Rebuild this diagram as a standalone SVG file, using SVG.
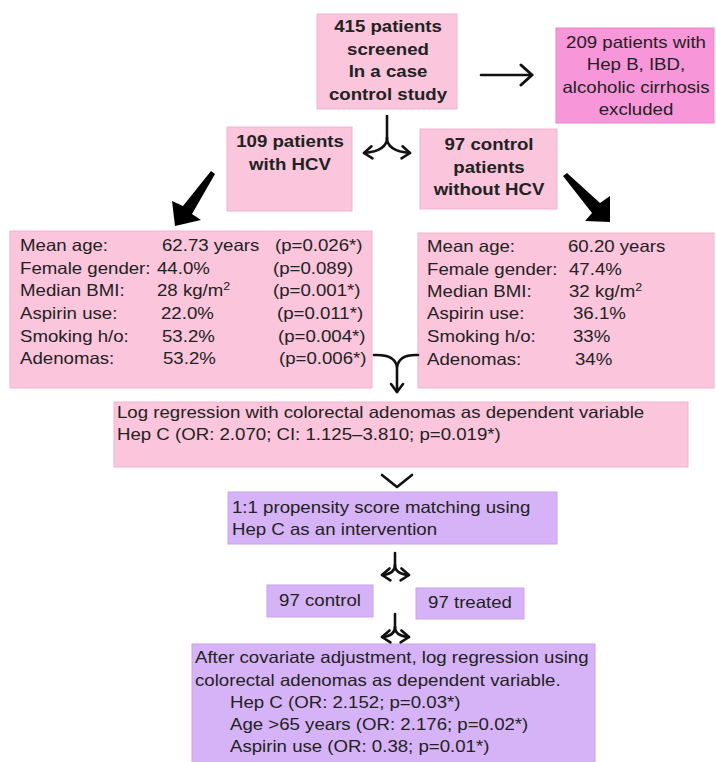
<svg xmlns="http://www.w3.org/2000/svg" width="716" height="762" viewBox="0 0 716 762">
<style>
text{font-family:"Liberation Sans",Arial,sans-serif;font-size:16.5px;fill:#222}
.b{font-weight:bold}
.c{text-anchor:middle}
.pk{fill:#fbc5dc;stroke:#f2b3cf;stroke-width:1}
.mg{fill:#f896da;stroke:#ec86cc;stroke-width:1}
.pu{fill:#d6b3f6;stroke:#c9a2ef;stroke-width:1}
.ln{fill:none;stroke:#111;stroke-width:2.6;stroke-linecap:round}
</style>
<defs>
<marker id="ah" markerUnits="userSpaceOnUse" markerWidth="16" markerHeight="16" viewBox="0 0 16 16" refX="12" refY="8" orient="auto">
<path d="M4,2 L12,8 L4,14" fill="none" stroke="#111" stroke-width="2.6" stroke-linecap="round" stroke-linejoin="round"/>
</marker>
<marker id="ah2" markerUnits="userSpaceOnUse" markerWidth="24" markerHeight="24" viewBox="0 0 24 24" refX="19" refY="12" orient="auto">
<path d="M8,2 L19,12 L8,22" fill="none" stroke="#111" stroke-width="3" stroke-linecap="round" stroke-linejoin="round"/>
</marker>
</defs>
<rect width="716" height="762" fill="#fff"/>

<g id="n-screened">
<rect class="pk" x="317" y="14" width="140" height="95"/>
<text class="b c" transform="translate(388,32) scale(1.13,1)">415 patients</text>
<text class="b c" transform="translate(388,55) scale(1.13,1)">screened</text>
<text class="b c" transform="translate(388,77) scale(1.13,1)">In a case</text>
<text class="b c" transform="translate(388,100) scale(1.13,1)">control study</text>
</g>

<g id="n-excluded">
<rect class="mg" x="556" y="28" width="158" height="95"/>
<text class="c" transform="translate(636,48) scale(1.13,1)">209 patients with</text>
<text class="c" transform="translate(636,70) scale(1.13,1)">Hep B, IBD,</text>
<text class="c" transform="translate(636,93) scale(1.13,1)">alcoholic cirrhosis</text>
<text class="c" transform="translate(636,115) scale(1.13,1)">excluded</text>
</g>

<g id="n-hcv">
<rect class="pk" x="227" y="127" width="125" height="84"/>
<text class="b c" transform="translate(290,147) scale(1.13,1)">109 patients</text>
<text class="b c" transform="translate(290,170) scale(1.13,1)">with HCV</text>
</g>

<g id="n-control">
<rect class="pk" x="420" y="129" width="137" height="80"/>
<text class="b c" transform="translate(489,150) scale(1.13,1)">97 control</text>
<text class="b c" transform="translate(489,173) scale(1.13,1)">patients</text>
<text class="b c" transform="translate(489,195) scale(1.13,1)">without HCV</text>
</g>

<g id="n-hcv-stats">
<rect class="pk" x="10" y="231" width="362" height="157"/>
<text transform="translate(20,251) scale(1.13,1)">Mean age:</text><text transform="translate(162,251) scale(1.13,1)">62.73 years</text><text transform="translate(275,251) scale(1.13,1)">(p=0.026*)</text>
<text transform="translate(20,274) scale(1.13,1)">Female gender:</text><text transform="translate(157,274) scale(1.13,1)">44.0%</text><text transform="translate(273,274) scale(1.13,1)">(p=0.089)</text>
<text transform="translate(20,296) scale(1.13,1)">Median BMI:</text><text transform="translate(157,296) scale(1.13,1)">28 kg/m<tspan dy="-6" font-size="11">2</tspan></text><text transform="translate(273,296) scale(1.13,1)">(p=0.001*)</text>
<text transform="translate(20,319) scale(1.13,1)">Aspirin use:</text><text transform="translate(161,319) scale(1.13,1)">22.0%</text><text transform="translate(277,319) scale(1.13,1)">(p=0.011*)</text>
<text transform="translate(20,342) scale(1.13,1)">Smoking h/o:</text><text transform="translate(162,342) scale(1.13,1)">53.2%</text><text transform="translate(278,342) scale(1.13,1)">(p=0.004*)</text>
<text transform="translate(20,364) scale(1.13,1)">Adenomas:</text><text transform="translate(163,364) scale(1.13,1)">53.2%</text><text transform="translate(279,364) scale(1.13,1)">(p=0.006*)</text>
</g>

<g id="n-control-stats">
<rect class="pk" x="418" y="233" width="296" height="155"/>
<text transform="translate(427,252) scale(1.13,1)">Mean age:</text><text transform="translate(568,252) scale(1.13,1)">60.20 years</text>
<text transform="translate(427,275) scale(1.13,1)">Female gender:</text><text transform="translate(569,275) scale(1.13,1)">47.4%</text>
<text transform="translate(427,297) scale(1.13,1)">Median BMI:</text><text transform="translate(569,297) scale(1.13,1)">32 kg/m<tspan dy="-6" font-size="11">2</tspan></text>
<text transform="translate(427,319) scale(1.13,1)">Aspirin use:</text><text transform="translate(573,319) scale(1.13,1)">36.1%</text>
<text transform="translate(427,342) scale(1.13,1)">Smoking h/o:</text><text transform="translate(573,342) scale(1.13,1)">33%</text>
<text transform="translate(427,365) scale(1.13,1)">Adenomas:</text><text transform="translate(575,365) scale(1.13,1)">34%</text>
</g>

<g id="n-logreg">
<rect class="pk" x="114" y="402" width="574" height="65"/>
<text transform="translate(117,418) scale(1.13,1)">Log regression with colorectal adenomas as dependent variable</text>
<text transform="translate(117,440) scale(1.13,1)">Hep C (OR: 2.070; CI: 1.125–3.810; p=0.019*)</text>
</g>

<g id="n-psm">
<rect class="pu" x="228" y="492" width="329" height="52"/>
<text transform="translate(232,513) scale(1.13,1)">1:1 propensity score matching using</text>
<text transform="translate(232,535) scale(1.13,1)">Hep C as an intervention</text>
</g>

<g id="n-97control">
<rect class="pu" x="267" y="585" width="106" height="32"/>
<text class="c" transform="translate(320,606) scale(1.13,1)">97 control</text>
</g>

<g id="n-97treated">
<rect class="pu" x="416" y="588" width="108" height="31"/>
<text class="c" transform="translate(470,608) scale(1.13,1)">97 treated</text>
</g>

<g id="n-final">
<rect class="pu" x="192" y="644" width="403" height="125"/>
<text transform="translate(195,663) scale(1.13,1)">After covariate adjustment, log regression using</text>
<text transform="translate(195,686) scale(1.13,1)">colorectal adenomas as dependent variable.</text>
<text transform="translate(230,708) scale(1.13,1)">Hep C (OR: 2.152; p=0.03*)</text>
<text transform="translate(230,730) scale(1.13,1)">Age &gt;65 years (OR: 2.176; p=0.02*)</text>
<text transform="translate(230,752) scale(1.13,1)">Aspirin use (OR: 0.38; p=0.01*)</text>
</g>

<g id="connectors">
<path class="ln" d="M481,75 H532" stroke-width="3" marker-end="url(#ah2)"/>
<path class="ln" d="M387,116 V138"/>
<path class="ln" d="M387,138 Q387,151 364,153" marker-end="url(#ah)"/>
<path class="ln" d="M387,138 Q387,151 410,153" marker-end="url(#ah)"/>
<polygon points="215,174 211,171 183,206 172,201 175,226 201,220 192,214" fill="#000"/>
<polygon points="563,176 567,173 600,203 610,196 610,222 585,221 592,213" fill="#000"/>
<path class="ln" d="M374,355 Q395,354 397,367 Q399,354 418,355"/>
<path class="ln" d="M397,366 V392" marker-end="url(#ah)"/>
<polyline class="ln" points="382,475 397,487 412,475" stroke-linejoin="round"/>
<path class="ln" d="M395,553 V565"/>
<path class="ln" d="M395,565 Q395,574 382,575" marker-end="url(#ah)"/>
<path class="ln" d="M395,565 Q395,574 409,575" marker-end="url(#ah)"/>
<path class="ln" d="M395,614 V627"/>
<path class="ln" d="M395,627 Q395,636 382,637" marker-end="url(#ah)"/>
<path class="ln" d="M395,627 Q395,636 409,637" marker-end="url(#ah)"/>
</g>
</svg>
